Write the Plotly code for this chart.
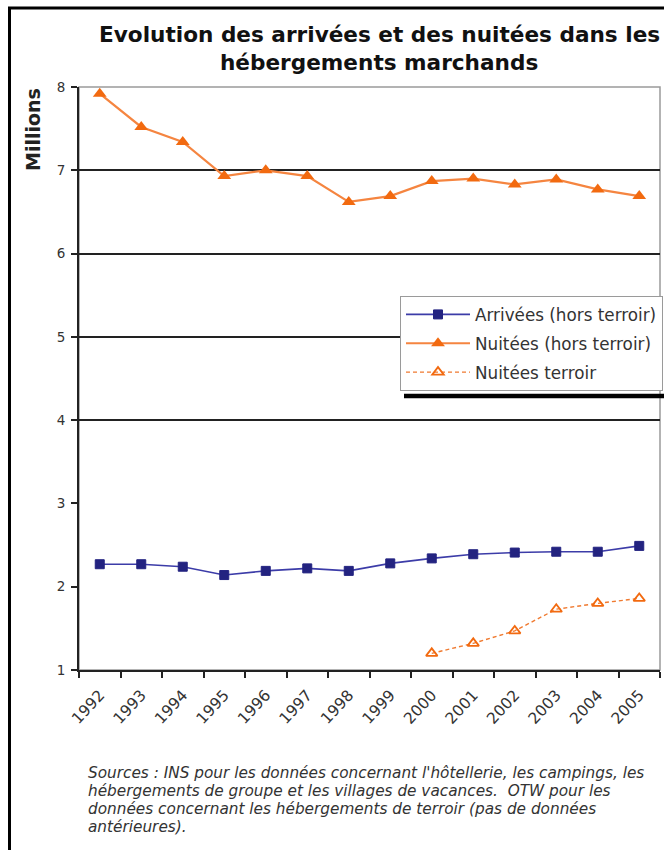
import plotly.graph_objects as go

years = ["1992", "1993", "1994", "1995", "1996", "1997", "1998",
         "1999", "2000", "2001", "2002", "2003", "2004", "2005"]
arrivees = [2.27, 2.27, 2.24, 2.14, 2.19, 2.22, 2.19, 2.28, 2.34, 2.39, 2.41, 2.42, 2.42, 2.49]
nuitees = [7.92, 7.52, 7.34, 6.93, 7.00, 6.93, 6.62, 6.69, 6.87, 6.90, 6.83, 6.89, 6.77, 6.69]
terroir_years = ["2000", "2001", "2002", "2003", "2004", "2005"]
terroir = [1.20, 1.32, 1.47, 1.73, 1.80, 1.86]
grid_values = [4, 5, 6, 7]

title_lines = ["Evolution des arrivées et des nuitées dans les", "hébergements marchands"]
note_lines = [
    "Sources : INS pour les données concernant l'hôtellerie, les campings, les",
    "hébergements de groupe et les villages de vacances.  OTW pour les",
    "données concernant les hébergements de terroir (pas de données",
    "antérieures).",
]

W, H = 664, 850
# plot area in page pixels
L, R, T, B = 79, 660, 87, 670


def px(x):
    return (x - L) / (R - L)


def py(y):
    return (B - y) / (B - T)


FONT = "DejaVu Sans, Verdana, sans-serif"

fig = go.Figure()
fig.add_trace(go.Scatter(
    x=years, y=arrivees, name="Arrivées (hors terroir)", mode="lines+markers",
    line=dict(color="#3c3ca8", width=1.6),
    marker=dict(symbol="square", size=9, color="#232380", line=dict(color="#232380", width=1)),
    legendgroup="a",
))
fig.add_trace(go.Scatter(
    x=years, y=nuitees, name="Nuitées (hors terroir)", mode="lines+markers",
    line=dict(color="#f58540", width=2.2),
    marker=dict(symbol="triangle-up", size=12, color="#f26a10"),
    legendgroup="b",
))
fig.add_trace(go.Scatter(
    x=terroir_years, y=terroir, name="Nuitées terroir", mode="lines+markers",
    line=dict(color="#f07a30", width=1.4, dash="4px,3px"),
    marker=dict(symbol="triangle-up-open", size=10, color="#f26a10", line=dict(width=1.8)),
    legendgroup="c",
))
# invisible trace for the gridline axis
fig.add_trace(go.Scatter(x=years, y=arrivees, yaxis="y2", mode="lines",
                         line=dict(width=0), showlegend=False, hoverinfo="skip", opacity=0))

fig.update_layout(
    width=W, height=H,
    margin=dict(l=L, r=W - R, t=T, b=H - B, autoexpand=False),
    paper_bgcolor="white", plot_bgcolor="white",
    font=dict(family=FONT, color="#222222"),
    xaxis=dict(
        type="category", categoryorder="array", categoryarray=years,
        range=[-0.5, 13.5], tickson="boundaries", ticks="outside", ticklen=6,
        tickwidth=2, tickcolor="#222222", showline=True, linecolor="#222222", linewidth=2,
        showgrid=False, tickangle=-47, tickfont=dict(size=15.5, color="#333333"),
        ticklabelstandoff=8, zeroline=False,
    ),
    yaxis=dict(
        range=[1, 8], dtick=1, ticks="outside", ticklen=6, tickwidth=2,
        tickcolor="#222222", showline=True, linecolor="#222222", linewidth=2,
        showgrid=False, zeroline=False, tickfont=dict(size=13.5, color="#333333"),
        ticklabelstandoff=3,
    ),
    yaxis2=dict(
        range=[1, 8], overlaying="y", tickvals=grid_values, showticklabels=False,
        showgrid=True, gridcolor="#222222", gridwidth=2, zeroline=False, showline=False,
        ticks="",
    ),
    legend=dict(
        x=px(400), y=py(296), xanchor="left", yanchor="top",
        bgcolor="white", bordercolor="#9a9a9a", borderwidth=1,
        font=dict(size=16.8, color="#333333", family=FONT),
        itemwidth=64, tracegroupgap=4,
    ),
    showlegend=True,
)

shapes = []
# grey plot frame (top/right)
shapes.append(dict(type="rect", xref="paper", yref="paper", x0=0, x1=1, y0=0, y1=1,
                   line=dict(color="#9a9a9a", width=1.5), layer="below"))
# legend shadow
shapes.append(dict(type="line", xref="paper", yref="paper", x0=px(404), x1=px(680),
                   y0=py(396), y1=py(396), line=dict(color="black", width=4.5)))
# page border
shapes.append(dict(type="line", xref="paper", yref="paper", x0=px(9.5), x1=px(9.5),
                   y0=py(7), y1=py(870), line=dict(color="black", width=3)))
shapes.append(dict(type="line", xref="paper", yref="paper", x0=px(8), x1=px(700),
                   y0=py(8), y1=py(8), line=dict(color="black", width=3)))
fig.update_layout(shapes=shapes)

# title
for line, yc in zip(title_lines, [34, 62]):
    fig.add_annotation(
        text="<b>" + line + "</b>", xref="paper", yref="paper",
        x=px(379), y=py(yc), xanchor="center", yanchor="middle", showarrow=False,
        font=dict(size=21.6, color="#111111", family=FONT),
    )

fig.add_annotation(
    text="<b>Millions</b>", textangle=-90, xref="paper", yref="paper",
    x=px(33), y=py(130), showarrow=False, font=dict(size=19, color="#222222", family=FONT),
    xanchor="center", yanchor="middle",
)
for line, yc in zip(note_lines, [773, 791, 809, 827]):
    fig.add_annotation(
        text="<i>" + line + "</i>",
        xref="paper", yref="paper", x=px(86), y=py(yc), xanchor="left", yanchor="middle",
        align="left", showarrow=False, font=dict(size=15.3, color="#333333", family=FONT),
    )

fig.write_html(
    "out.html",
    config={"displayModeBar": False},
    post_script="document.body.style.margin='0';document.documentElement.style.overflow='hidden';",
)
